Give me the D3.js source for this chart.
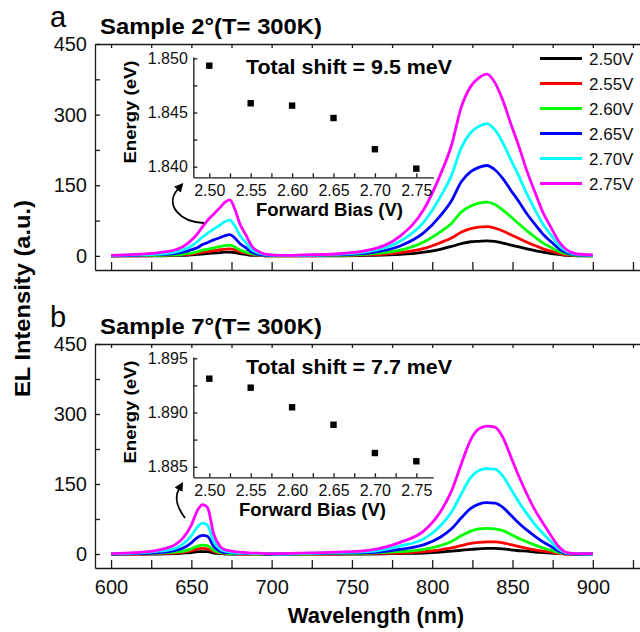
<!DOCTYPE html>
<html>
<head>
    <title>EL spectra vs forward bias</title>
    <script src="https://d3js.org/d3.v7.min.js"></script>
    <style>
        body { margin: 0; background: #fff; }
        svg { display: block; font-family: "Liberation Sans", Arial, sans-serif; }
    </style>
</head>
<body>
    <div class="chart"></div>
    <script>
        // Wavelength grid (nm) shared by all spectra
        const wl = [600, 615, 630, 640, 645, 650, 654, 657, 660, 664, 668, 671, 674, 677, 680, 684, 688, 692, 697, 705,
                    720, 740, 760, 780, 795, 805, 812, 818, 824, 829, 834, 839, 844, 849, 854, 859, 864, 869, 874, 879, 884, 890, 900];

        // Panel a: Sample 2 deg, EL intensity (a.u.)
        const a250 = [0,0,0,1,1,2,3,4,5,6,7,8,8,7,5,3,1,1,0,0, 0,0,1,3,8,14,20,26,30,31,32,31,27,23,19,15,11,8,5,3,1,0,0];
        const a255 = [0,0,1,2,3,4,6,8,9,11,13,14,15,13,9,6,3,1,0,0, 0,1,2,7,16,28,38,50,58,61,62,59,53,45,37,29,22,15,10,5,2,1,0];
        const a260 = [0,1,1,2,4,6,9,12,14,17,20,22,23,19,13,8,4,2,1,0, 1,1,4,12,30,51,69,93,106,112,114,109,97,83,68,53,40,27,18,9,4,1,0];
        const a265 = [0,1,3,5,8,13,18,24,28,34,39,43,45,38,27,17,7,3,1,1, 1,2,6,21,50,85,117,157,179,188,192,183,164,139,115,89,67,46,30,15,6,2,1];
        const a270 = [1,2,4,8,13,21,31,40,48,57,66,73,76,64,45,28,12,6,2,1, 1,3,9,31,73,125,171,229,262,275,281,268,240,204,169,131,98,67,44,22,9,3,1];
        const a275 = [1,3,7,13,20,33,48,62,75,89,103,114,119,100,70,44,19,9,3,1, 2,4,12,42,100,172,235,315,360,378,386,368,330,280,232,180,135,92,60,30,12,4,2];

        // Panel b: Sample 7 deg
        const b250 = [0,0,0,1,2,3,5,5,5,2,1,0,0,0,0,0,0,0,0,0, 0,0,0,1,2,4,6,8,10,11,12,12,11,9,7,6,4,3,2,1,0,0,0];
        const b255 = [0,0,1,2,4,7,11,12,11,5,2,1,1,1,0,0,0,0,0,0, 0,0,1,2,5,9,13,18,23,25,26,26,24,20,16,12,9,6,4,1,0,0,0];
        const b260 = [0,1,2,4,6,11,17,19,18,8,3,2,1,1,1,1,0,0,0,0, 0,1,2,5,10,18,27,39,49,54,55,54,50,42,33,26,19,13,8,3,1,0,0];
        const b265 = [0,1,3,8,13,24,36,40,38,16,6,3,3,2,2,1,1,1,0,0, 1,2,3,10,20,36,54,77,98,107,110,109,100,83,66,51,38,26,16,6,1,0,0];
        const b270 = [1,2,6,12,22,39,59,66,62,26,10,6,4,3,2,2,1,1,1,0, 1,3,5,17,33,60,90,128,164,179,183,182,167,139,111,86,63,44,26,10,2,1,0];
        const b275 = [1,3,9,20,35,62,95,106,100,42,16,9,7,5,4,3,2,2,1,1, 2,4,8,25,50,90,135,192,245,268,274,272,250,208,166,128,94,66,39,15,3,1,1];

        const biasLabels = ["2.50V", "2.55V", "2.60V", "2.65V", "2.70V", "2.75V"];
        const colors = ["#000000", "#ff0000", "#00ff00", "#0000ff", "#00ffff", "#ff00ff"];

        // Insets: peak energy vs forward bias
        const biasV = [2.50, 2.55, 2.60, 2.65, 2.70, 2.75];
        const energyA = [1.84932, 1.84585, 1.84563, 1.84449, 1.84161, 1.83982];
        const energyB = [1.89312, 1.89229, 1.89048, 1.88887, 1.88626, 1.88550];

        const svg = d3.select(".chart")
            .append("svg")
            .attr("width", 640)
            .attr("height", 632);

        // arrow head
        svg.append("defs").append("marker")
            .attr("id", "head")
            .attr("viewBox", "0 0 10 10")
            .attr("refX", 1).attr("refY", 5)
            .attr("markerWidth", 9).attr("markerHeight", 9)
            .attr("markerUnits", "userSpaceOnUse")
            .attr("orient", "auto")
            .append("path")
            .attr("d", "M0,0 L10,5 L0,10 z")
            .attr("fill", "#000");

        const x = d3.scaleLinear().domain([590, 930]).range([95, 641]);
        const xIn = d3.scaleLinear().domain([2.4807, 2.7705]).range([193.3, 433.3]);

        const line = (yScale) => d3.line()
            .x((d, i) => x(wl[i]))
            .y(d => yScale(d))
            .curve(d3.curveMonotoneX);

        function styleAxis(g, size) {
            g.attr("font-family", null).attr("font-size", size);
            g.selectAll("path, line").attr("stroke", "#1a1a1a").attr("stroke-width", 1.3);
            g.selectAll("text").attr("fill", "#111");
        }

        function drawPanel(p) {
            const y = d3.scaleLinear().domain([-30, 450]).range([p.bottom, p.top]);

            // spectra, lowest bias first
            p.series.forEach((s, i) => {
                svg.append("path")
                    .datum(s)
                    .attr("fill", "none")
                    .attr("stroke", colors[i])
                    .attr("stroke-width", 2.8)
                    .attr("stroke-linejoin", "round")
                    .attr("d", line(y));
            });

            // left axis
            svg.append("g")
                .attr("transform", `translate(95,0)`)
                .call(d3.axisLeft(y)
                    .tickValues(d3.range(0, 451, 75))
                    .tickSizeInner(-5).tickSizeOuter(0).tickPadding(8)
                    .tickFormat(d => d % 150 === 0 ? d : ""))
                .call(g => styleAxis(g, 20));

            // bottom axis
            svg.append("g")
                .attr("transform", `translate(0,${p.bottom})`)
                .call(d3.axisBottom(x)
                    .tickValues(d3.range(600, 926, 25))
                    .tickSizeInner(-8).tickSizeOuter(0).tickPadding(11.5)
                    .tickFormat(d => p.xLabels && d % 50 === 0 ? d : ""))
                .call(g => styleAxis(g, 20));

            // top frame
            svg.append("g")
                .attr("transform", `translate(0,${p.top})`)
                .call(d3.axisTop(x)
                    .tickValues(d3.range(600, 926, 25))
                    .tickSizeInner(-4).tickSizeOuter(0)
                    .tickFormat(""))
                .call(g => styleAxis(g, 10));

            // panel letter and title
            svg.append("text")
                .attr("x", 50).attr("y", p.top - 17)
                .attr("font-size", 29)
                .text(p.letter);
            svg.append("text")
                .attr("x", 100).attr("y", p.top - 10.5)
                .attr("font-size", 22).attr("font-weight", "bold")
                .attr("textLength", 222).attr("lengthAdjust", "spacingAndGlyphs")
                .text(p.title);

            // inset
            const yIn = d3.scaleLinear().domain(p.eDomain).range([p.top + 133.3, p.top + 13]);
            const eTicks = d3.range(0, 5).map(k => p.eDomain[0] + 0.00098 + k * 0.0025);
            svg.append("g")
                .attr("transform", `translate(193.3,0)`)
                .call(d3.axisLeft(yIn)
                    .tickValues(eTicks)
                    .tickSizeInner(-4).tickSizeOuter(0).tickPadding(5.5)
                    .tickFormat((d, i) => i % 2 === 0 ? d.toFixed(3) : ""))
                .call(g => styleAxis(g, 16));
            svg.append("g")
                .attr("transform", `translate(0,${p.top + 133.3})`)
                .call(d3.axisBottom(xIn)
                    .tickValues(d3.range(0, 11).map(k => 2.50 + k * 0.025))
                    .tickSizeInner(-4).tickSizeOuter(0).tickPadding(7.3)
                    .tickFormat((d, i) => i % 2 === 0 ? d.toFixed(2) : ""))
                .call(g => styleAxis(g, 16));

            svg.selectAll(null)
                .data(p.energy)
                .enter()
                .append("rect")
                .attr("x", (d, i) => xIn(biasV[i]) - 3.2)
                .attr("y", d => yIn(d) - 3.2)
                .attr("width", 6.4).attr("height", 6.4)
                .attr("fill", "#000");

            svg.append("text")
                .attr("transform", `translate(136,${p.top + 68}) rotate(-90)`)
                .attr("text-anchor", "middle")
                .attr("font-size", 17).attr("font-weight", "bold")
                .attr("textLength", 103).attr("lengthAdjust", "spacingAndGlyphs")
                .text("Energy (eV)");
            svg.append("text")
                .attr("x", 246).attr("y", p.top + 30)
                .attr("font-size", 20).attr("font-weight", "bold")
                .attr("textLength", 206).attr("lengthAdjust", "spacingAndGlyphs")
                .text(p.shift);
            svg.append("text")
                .attr("x", p.fbX).attr("y", p.top + 172)
                .attr("font-size", 17.5).attr("font-weight", "bold")
                .attr("textLength", 147).attr("lengthAdjust", "spacingAndGlyphs")
                .text("Forward Bias (V)");

            // curved arrow from the small peak to the inset
            svg.append("path")
                .attr("d", p.arrow)
                .attr("fill", "none")
                .attr("stroke", "#000")
                .attr("stroke-width", 1.8)
                .attr("marker-end", "url(#head)");
        }

        drawPanel({
            top: 44, bottom: 270, letter: "a", title: "Sample 2\u00B0(T= 300K)",
            series: [a250, a255, a260, a265, a270, a275], xLabels: false,
            eDomain: [1.83902, 1.85012], energy: energyA,
            shift: "Total shift = 9.5 meV", fbX: 256,
            arrow: "M204,223 C180,222 164,205 178,189"
        });

        drawPanel({
            top: 344, bottom: 568, letter: "b", title: "Sample 7\u00B0(T= 300K)",
            series: [b250, b255, b260, b265, b270, b275], xLabels: true,
            eDomain: [1.88402, 1.89512], energy: energyB,
            shift: "Total shift = 7.7 meV", fbX: 239,
            arrow: "M185,518 C176,506 175,496 179,489"
        });

        // legend (panel a)
        const legend = svg.append("g");
        biasLabels.forEach((lab, i) => {
            const ly = 58.5 + i * 25;
            legend.append("line")
                .attr("x1", 540).attr("x2", 582)
                .attr("y1", ly).attr("y2", ly)
                .attr("stroke", colors[i]).attr("stroke-width", 3);
            legend.append("text")
                .attr("x", 589).attr("y", ly + 6)
                .attr("font-size", 17)
                .attr("fill", "#111")
                .text(lab);
        });

        // shared axis titles
        svg.append("text")
            .attr("transform", "translate(29.5,298.5) rotate(-90)")
            .attr("text-anchor", "middle")
            .attr("font-size", 22).attr("font-weight", "bold")
            .attr("textLength", 197).attr("lengthAdjust", "spacingAndGlyphs")
            .text("EL Intensity (a.u.)");
        svg.append("text")
            .attr("x", 376).attr("y", 623)
            .attr("text-anchor", "middle")
            .attr("font-size", 22).attr("font-weight", "bold")
            .text("Wavelength (nm)");
    </script>
</body>
</html>
